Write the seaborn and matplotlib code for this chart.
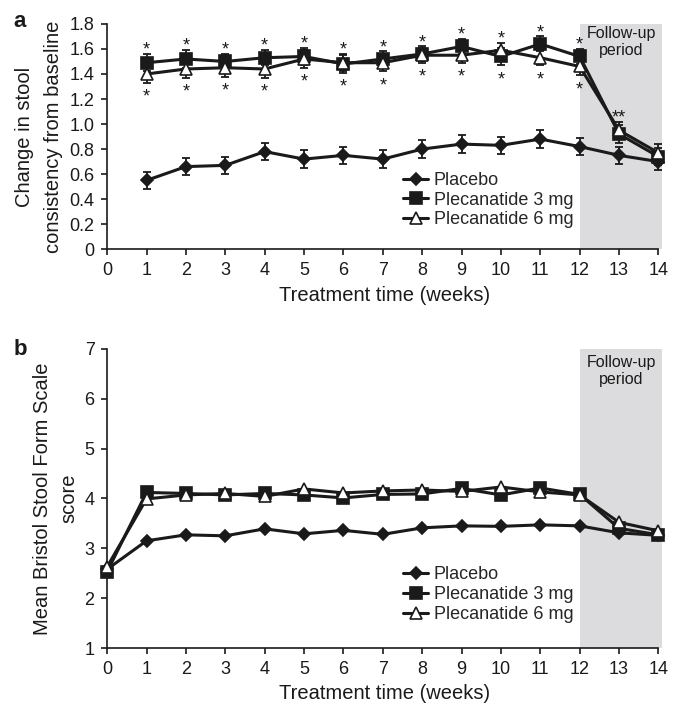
import numpy as np
import pandas as pd
import matplotlib
matplotlib.use("Agg")
import matplotlib.pyplot as plt
import seaborn as sns

# weeks
weeks_a = list(range(1, 15))
weeks_b = list(range(0, 15))

# panel a: change in stool consistency from baseline (mean, +/- SE)
placebo_a = [0.55, 0.66, 0.67, 0.78, 0.72, 0.75, 0.72, 0.80, 0.84, 0.83, 0.88, 0.82, 0.75, 0.70]
placebo_a_err = [0.07, 0.07, 0.07, 0.07, 0.07, 0.07, 0.07, 0.07, 0.07, 0.07, 0.07, 0.07, 0.07, 0.07]
mg3_a = [1.49, 1.52, 1.50, 1.53, 1.54, 1.48, 1.52, 1.56, 1.62, 1.54, 1.64, 1.54, 0.92, 0.74]
mg3_a_err = [0.07, 0.07, 0.06, 0.06, 0.07, 0.07, 0.06, 0.06, 0.06, 0.07, 0.06, 0.06, 0.07, 0.07]
mg6_a = [1.40, 1.44, 1.45, 1.44, 1.52, 1.49, 1.49, 1.55, 1.55, 1.59, 1.53, 1.46, 0.95, 0.77]
mg6_a_err = [0.07, 0.07, 0.07, 0.07, 0.07, 0.07, 0.07, 0.06, 0.06, 0.06, 0.06, 0.07, 0.07, 0.07]
stars_a = ["*"] * 12 + ["**", ""]

# panel b: mean Bristol Stool Form Scale score
placebo_b = [2.58, 3.15, 3.27, 3.25, 3.39, 3.29, 3.36, 3.28, 3.41, 3.45, 3.44, 3.47, 3.45, 3.31, 3.26]
mg3_b = [2.53, 4.12, 4.10, 4.07, 4.10, 4.07, 4.01, 4.08, 4.09, 4.20, 4.07, 4.21, 4.08, 3.40, 3.27]
mg6_b = [2.63, 3.99, 4.07, 4.10, 4.04, 4.19, 4.11, 4.15, 4.17, 4.14, 4.23, 4.13, 4.07, 3.52, 3.35]

groups = ["Placebo", "Plecanatide 3 mg", "Plecanatide 6 mg"]
group_style = {
    "Placebo": dict(marker="D", markersize=6, markerfacecolor="#1a1a1a"),
    "Plecanatide 3 mg": dict(marker="s", markersize=8.5, markerfacecolor="#1a1a1a"),
    "Plecanatide 6 mg": dict(marker="^", markersize=8.5, markerfacecolor="white"),
}

df_a = pd.DataFrame({
    "week": weeks_a * 3,
    "value": placebo_a + mg3_a + mg6_a,
    "err": placebo_a_err + mg3_a_err + mg6_a_err,
    "group": np.repeat(groups, len(weeks_a)),
})
df_b = pd.DataFrame({
    "week": weeks_b * 3,
    "value": placebo_b + mg3_b + mg6_b,
    "group": np.repeat(groups, len(weeks_b)),
})

sns.set_style("ticks")
plt.rcParams["font.family"] = ["Liberation Sans", "DejaVu Sans"]
ink = "#1a1a1a"
shade = "#dcdcde"

fig = plt.figure(figsize=(6.78, 7.04), dpi=100)
ax_a = fig.add_axes([0.158, 0.646, 0.819, 0.320])
ax_b = fig.add_axes([0.158, 0.0795, 0.819, 0.425])


def draw_panel(ax, df, with_err):
    for g in groups:
        sub = df[df["group"] == g]
        if with_err:
            ax.errorbar(sub["week"], sub["value"], yerr=sub["err"], fmt="none",
                        ecolor=ink, elinewidth=1.3, capsize=3, capthick=1.3, zorder=2)
        sns.lineplot(data=sub, x="week", y="value", ax=ax, color=ink, linewidth=2.2,
                     markeredgecolor=ink, markeredgewidth=1.2, label=g,
                     errorbar=None, zorder=3, clip_on=False, **group_style[g])


def style_panel(ax, ylim, yticks, ylabels, ylabel_lines, ylab_xs):
    ax.axvspan(12, 14.1, color=shade, zorder=0, lw=0)
    ax.set_xlim(0, 14.1)
    ax.set_ylim(*ylim)
    ax.set_xticks(range(0, 15))
    ax.set_yticks(yticks)
    ax.set_yticklabels(ylabels)
    ax.tick_params(axis="both", labelsize=13, colors=ink, length=4, width=1.2, pad=5)
    ax.set_xlabel("Treatment time (weeks)", fontsize=14.5, color=ink, labelpad=5)
    ax.set_ylabel("")
    # two-line y label, each line centred on the axis
    for line, xpos in zip(ylabel_lines, ylab_xs):
        ax.text(xpos, 0.5, line, transform=ax.transAxes, rotation=90, ha="center",
                va="center", fontsize=14.5, color=ink)
    for s in ["top", "right"]:
        ax.spines[s].set_visible(False)
    for s in ["left", "bottom"]:
        ax.spines[s].set_linewidth(1.2)
        ax.spines[s].set_color(ink)
    ax.spines["bottom"].set_bounds(0, 14)


# panel a
draw_panel(ax_a, df_a, True)
style_panel(ax_a, (0, 1.8), np.arange(0, 1.81, 0.2),
            ["0"] + [f"{v:.1f}" for v in np.arange(0.2, 1.81, 0.2)],
            ["Change in stool", "consistency from baseline"], [-0.149, -0.097])
for i, wk in enumerate(weeks_a):
    if not stars_a[i]:
        continue
    top = max(mg3_a[i] + mg3_a_err[i], mg6_a[i] + mg6_a_err[i])
    ax_a.text(wk, top - 0.005, stars_a[i], ha="center", va="baseline", fontsize=13, color=ink)
    if stars_a[i] == "*":
        low = min(mg3_a[i] - mg3_a_err[i], mg6_a[i] - mg6_a_err[i])
        ax_a.text(wk, low - 0.15, "*", ha="center", va="baseline", fontsize=13, color=ink)
ax_a.text(13.05, 1.78, "Follow-up\nperiod", ha="center", va="top", fontsize=11.5,
          color=ink, linespacing=1.1)
ax_a.legend(loc="lower left", bbox_to_anchor=(0.52, 0.06), frameon=False, fontsize=13,
            handlelength=1.4, handletextpad=0.3, labelspacing=0.15, borderaxespad=0)

# panel b
draw_panel(ax_b, df_b, False)
style_panel(ax_b, (1, 7), range(1, 8), [str(v) for v in range(1, 8)],
            ["Mean Bristol Stool Form Scale", "score"], [-0.117, -0.068])
ax_b.text(13.05, 6.87, "Follow-up\nperiod", ha="center", va="top", fontsize=11.5,
          color=ink, linespacing=1.1)
ax_b.legend(loc="lower left", bbox_to_anchor=(0.52, 0.06), frameon=False, fontsize=13,
            handlelength=1.4, handletextpad=0.3, labelspacing=0.15, borderaxespad=0)

fig.text(0.02, 0.985, "a", fontsize=16, fontweight="bold", va="top", color=ink)
fig.text(0.02, 0.518, "b", fontsize=16, fontweight="bold", va="top", color=ink)

fig.savefig("out.png", dpi=100)
